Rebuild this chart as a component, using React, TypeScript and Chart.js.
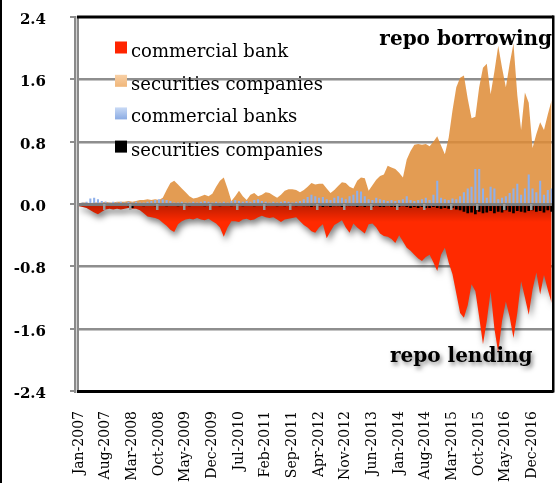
import { useEffect, useRef } from 'react';
import { Chart, registerables } from 'chart.js';

// ---------- data ----------
const MONTH_NAMES = ['Jan', 'Feb', 'Mar', 'Apr', 'May', 'Jun', 'Jul', 'Aug', 'Sep', 'Oct', 'Nov', 'Dec'];
const FIRST_YEAR = 2007;
const MONTH_COUNT = 125; // Jan-2007 .. May-2017
const CATEGORIES: string[] = Array.from(
  { length: MONTH_COUNT },
  (_, i) => `${MONTH_NAMES[i % 12]}-${FIRST_YEAR + Math.floor(i / 12)}`
);
const LABEL_STEP = 7;
const Y_TICKS = [-2.4, -1.6, -0.8, 0, 0.8, 1.6, 2.4];

const SERIES_NAMES = ['commercial bank', 'securities companies', 'commercial banks', 'securities companies'];
const NOTE_BORROWING = 'repo borrowing';
const NOTE_LENDING = 'repo lending';

// commercial bank repo lending (area, negative)
const BANK_LENDING = [
  -0.03, -0.04, -0.05, -0.08, -0.11, -0.13, -0.1, -0.07, -0.06, -0.07, -0.06, -0.07,
  -0.06, -0.05, -0.06, -0.06, -0.08, -0.12, -0.16, -0.17, -0.18, -0.2, -0.24, -0.28,
  -0.33, -0.36, -0.26, -0.22, -0.2, -0.19, -0.2, -0.18, -0.2, -0.21, -0.19, -0.22,
  -0.25, -0.3, -0.42, -0.3, -0.22, -0.22, -0.23, -0.2, -0.19, -0.21, -0.2, -0.17,
  -0.15, -0.17, -0.18, -0.17, -0.2, -0.23, -0.2, -0.19, -0.18, -0.17, -0.22, -0.27,
  -0.3, -0.35, -0.37, -0.3, -0.26, -0.44, -0.35, -0.27, -0.24, -0.21, -0.3, -0.37,
  -0.25, -0.3, -0.34, -0.38, -0.26, -0.25, -0.3, -0.38, -0.41, -0.42, -0.45, -0.5,
  -0.4, -0.48, -0.56, -0.6, -0.65, -0.7, -0.73, -0.68, -0.65, -0.75, -0.86, -0.65,
  -0.56, -0.75, -0.9, -1.15, -1.4, -1.46, -1.3, -1.03, -1.12, -1.45, -1.8, -1.5,
  -1.12, -1.6, -1.91, -1.5, -1.25, -1.45, -1.72, -1.4, -0.99, -1.2, -1.42, -1.1,
  -0.88, -1.16, -0.91, -1.1, -1.27,
];

// securities companies repo borrowing (area, positive)
const SEC_BORROWING = [
  0.01, 0.02, 0.02, 0.01, 0.02, 0.02, 0.02, 0.03, 0.02, 0.02, 0.03, 0.03,
  0.03, 0.04, 0.03, 0.04, 0.05, 0.05, 0.06, 0.05, 0.06, 0.05, 0.08, 0.18,
  0.27, 0.3, 0.25, 0.2, 0.15, 0.1, 0.07, 0.08, 0.1, 0.12, 0.1, 0.13,
  0.22, 0.3, 0.34, 0.2, 0.04, 0.1, 0.17, 0.1, 0.05, 0.12, 0.14, 0.1,
  0.12, 0.15, 0.14, 0.11, 0.08, 0.12, 0.17, 0.19, 0.19, 0.18, 0.15, 0.18,
  0.22, 0.27, 0.25, 0.26, 0.26, 0.2, 0.14, 0.18, 0.23, 0.28, 0.27, 0.22,
  0.2, 0.3, 0.34, 0.33, 0.17, 0.24, 0.31, 0.36, 0.38, 0.49, 0.47, 0.45,
  0.4, 0.34, 0.57, 0.68, 0.76, 0.77, 0.76, 0.77, 0.74, 0.8, 0.87, 0.75,
  0.64, 0.85, 1.2, 1.5, 1.62, 1.65, 1.35, 1.1, 1.12, 1.5, 1.75, 1.8,
  1.41, 1.7, 2.03, 1.75, 1.5, 1.8, 2.06, 1.4, 0.95, 1.43, 1.3, 0.72,
  0.9, 1.05, 0.95, 1.15, 1.33,
];

// commercial banks repo borrowing (bars, positive)
const BANK_BORROWING = [
  0.01, 0.02, 0.03, 0.07, 0.08, 0.06, 0.04, 0.03, 0.02, 0.03, 0.02, 0.03,
  0.02, 0.03, 0.02, 0.03, 0.02, 0.02, 0.03, 0.04, 0.05, 0.06, 0.06, 0.05,
  0.04, 0.02, 0.02, 0.03, 0.02, 0.02, 0.03, 0.02, 0.03, 0.04, 0.03, 0.02,
  0.03, 0.02, 0.03, 0.02, 0.04, 0.05, 0.04, 0.03, 0.04, 0.03, 0.05, 0.06,
  0.04, 0.03, 0.02, 0.03, 0.02, 0.03, 0.04, 0.03, 0.02, 0.03, 0.04, 0.06,
  0.09, 0.12, 0.1, 0.08, 0.09, 0.06, 0.05, 0.08, 0.1, 0.08, 0.06, 0.1,
  0.12, 0.17, 0.16, 0.1, 0.06, 0.05, 0.08, 0.06, 0.05, 0.04, 0.05, 0.04,
  0.05, 0.06, 0.1, 0.05, 0.04, 0.05, 0.06, 0.08, 0.05, 0.12, 0.3, 0.08,
  0.06, 0.05, 0.07, 0.06, 0.1, 0.15, 0.2, 0.22, 0.45, 0.45, 0.2, 0.08,
  0.22, 0.2, 0.06, 0.08, 0.1, 0.14, 0.2, 0.26, 0.12, 0.2, 0.38, 0.2,
  0.15, 0.3, 0.12, 0.18, 0.2,
];

// securities companies repo lending (bars, negative)
const SEC_LENDING = [
  -0.01, -0.01, -0.02, -0.01, -0.02, -0.01, -0.02, -0.02, -0.01, -0.02, -0.02, -0.01,
  -0.02, -0.03, -0.05, -0.02, -0.02, -0.03, -0.02, -0.02, -0.03, -0.02, -0.02, -0.03,
  -0.02, -0.02, -0.03, -0.02, -0.02, -0.03, -0.02, -0.02, -0.02, -0.03, -0.02, -0.02,
  -0.02, -0.03, -0.02, -0.02, -0.03, -0.02, -0.02, -0.03, -0.02, -0.02, -0.03, -0.02,
  -0.02, -0.03, -0.02, -0.02, -0.03, -0.02, -0.03, -0.02, -0.02, -0.03, -0.02, -0.03,
  -0.03, -0.04, -0.03, -0.03, -0.04, -0.03, -0.04, -0.03, -0.03, -0.04, -0.03, -0.03,
  -0.03, -0.04, -0.03, -0.04, -0.03, -0.04, -0.03, -0.04, -0.04, -0.03, -0.04, -0.04,
  -0.04, -0.03, -0.04, -0.05, -0.04, -0.05, -0.04, -0.05, -0.05, -0.04, -0.05, -0.06,
  -0.05, -0.06, -0.05, -0.07, -0.08, -0.1, -0.12, -0.11, -0.13, -0.1, -0.12, -0.11,
  -0.09, -0.12, -0.1, -0.11, -0.08, -0.1, -0.12, -0.09, -0.1, -0.11, -0.09, -0.08,
  -0.1, -0.09, -0.11, -0.08, -0.1,
];

// ---------- styles ----------
const RED = '#ff2a00';
const RED_DARK = '#b71c00';
const ORANGE = 'rgba(222,140,55,0.86)';
const BLUE = '#8fb0ea';
const BLACK = '#000000';
const GRID = '#8e8e8e';
const GRID_SOFT = '#c4c4c4';
const LEGEND_SWATCH = [
  ['#ff2400', '#ff2400'],
  ['#f8d0a6', '#f0b679'],
  ['#c9daf5', '#8aabe3'],
  ['#000000', '#000000'],
];
const SERIF = '"DejaVu Serif", serif';

const shadowPlugin = {
  id: 'areaShadow',
  beforeDatasetDraw(chart: any, args: any) {
    const ds: any = chart.data.datasets[args.index];
    if (ds.dropShadow) {
      const ctx = chart.ctx;
      ctx.save();
      ctx.shadowColor = 'rgba(0,0,0,0.5)';
      ctx.shadowBlur = 6;
      ctx.shadowOffsetX = 2;
      ctx.shadowOffsetY = 4;
    }
  },
  afterDatasetDraw(chart: any, args: any) {
    const ds: any = chart.data.datasets[args.index];
    if (ds.dropShadow) chart.ctx.restore();
  },
};

Chart.register(shadowPlugin);
Chart.register(...registerables);

const decorPlugin = {
  id: 'decor',
  afterDatasetsDraw(chart: any) {
    const { ctx, chartArea: a, scales } = chart;
    const x = scales.x;
    const y = scales.y;
    const left = Math.round(a.left);
    const right = Math.round(a.right);
    const y0 = Math.round(y.getPixelForValue(0));
    const half = (x.getPixelForValue(1) - x.getPixelForValue(0)) / 2;
    ctx.save();
    // horizontal grid lines, drawn behind the areas already painted
    ctx.globalCompositeOperation = 'destination-over';
    Y_TICKS.forEach((v) => {
      if (Math.abs(v) > 0.01 && Math.abs(v) < 2.3) {
        const py = Math.round(y.getPixelForValue(v));
        ctx.fillStyle = GRID_SOFT;
        ctx.fillRect(left, py + 1, right - left, 1);
        ctx.fillStyle = GRID;
        ctx.fillRect(left, py - 1, right - left, 2);
      }
    });
    ctx.globalCompositeOperation = 'source-over';
    // y tick marks
    ctx.fillStyle = GRID;
    Y_TICKS.forEach((v) => {
      const py = Math.round(y.getPixelForValue(v));
      ctx.fillRect(left - 7, py - 1, 7, 2);
    });
    // left axis (double grey line)
    ctx.fillStyle = '#8a8a8a';
    ctx.fillRect(left - 3, Math.round(a.top) - 1, 5, Math.round(a.bottom - a.top) + 3);
    ctx.fillStyle = '#d2d2d2';
    ctx.fillRect(left - 1, Math.round(a.top) - 1, 1, Math.round(a.bottom - a.top) + 3);
    // zero axis
    ctx.fillStyle = '#7c7c7c';
    ctx.fillRect(left + 2, y0 - 1, right - left - 2, 3);
    // tick marks every LABEL_STEP months
    ctx.fillStyle = '#9a9a9a';
    for (let i = LABEL_STEP; i < CATEGORIES.length; i += LABEL_STEP) {
      const p = Math.round(x.getPixelForValue(i) - half);
      ctx.fillRect(p - 1, y0, 2.5, 6);
    }
    // frame
    ctx.fillStyle = '#000';
    ctx.fillRect(a.left, a.top - 1.5, a.right - a.left, 3);
    ctx.fillRect(a.left, a.bottom - 1, a.right - a.left, 3);
    ctx.fillRect(a.right - 1.5, a.top - 1.5, 2.5, a.bottom - a.top + 3);
    ctx.restore();
  },
  afterDraw(chart: any) {
    const { ctx } = chart;
    ctx.save();
    // outer left edge
    ctx.fillStyle = '#000';
    ctx.fillRect(0, 0, 2, chart.height);
    // legend
    const rows = [47.5, 80.8, 113.4, 146.6];
    chart.data.datasets.forEach((ds: any, i: number) => {
      const cy = rows[i];
      const g = ctx.createLinearGradient(0, cy - 6, 0, cy + 6);
      g.addColorStop(0, LEGEND_SWATCH[i][0]);
      g.addColorStop(1, LEGEND_SWATCH[i][1]);
      ctx.fillStyle = g;
      ctx.fillRect(115, cy - 6, 12, 12);
      ctx.fillStyle = '#000';
      ctx.font = `18px ${SERIF}`;
      ctx.textAlign = 'left';
      ctx.textBaseline = 'alphabetic';
      ctx.fillText(ds.label, 131, cy + 9);
    });
    // notes
    ctx.font = `bold 20px ${SERIF}`;
    ctx.textAlign = 'right';
    ctx.fillStyle = '#000';
    ctx.fillText(NOTE_BORROWING, 552, 45);
    ctx.textAlign = 'left';
    ctx.shadowColor = 'rgba(0,0,0,0.45)';
    ctx.shadowBlur = 4;
    ctx.shadowOffsetX = 2;
    ctx.shadowOffsetY = 3;
    ctx.fillText(NOTE_LENDING, 390, 362);
    ctx.restore();
  },
};

const redFill = (c: any) => {
  const chart = c.chart;
  if (!chart.chartArea) return RED;
  const y0 = chart.scales.y.getPixelForValue(0);
  const g = chart.ctx.createLinearGradient(0, y0, 0, y0 + 18);
  g.addColorStop(0, RED_DARK);
  g.addColorStop(1, RED);
  return g;
};

export default function App() {
  const ref = useRef<HTMLCanvasElement | null>(null);
  useEffect(() => {
    if (!ref.current) return;
    const context = ref.current.getContext('2d', { willReadFrequently: true });
    if (!context) return;
    const chart = new Chart(context, {
      type: 'bar',
      data: {
        labels: CATEGORIES,
        datasets: [
          {
            type: 'line',
            label: SERIES_NAMES[0],
            data: BANK_LENDING,
            backgroundColor: redFill,
            borderWidth: 0,
            pointRadius: 0,
            fill: 'origin',
            tension: 0,
            order: 2,
            dropShadow: true,
          } as any,
          {
            type: 'line',
            label: SERIES_NAMES[1],
            data: SEC_BORROWING,
            backgroundColor: ORANGE,
            borderWidth: 0,
            pointRadius: 0,
            fill: 'origin',
            tension: 0,
            order: 3,
          } as any,
          {
            type: 'bar',
            label: SERIES_NAMES[2],
            data: BANK_BORROWING,
            backgroundColor: BLUE,
            grouped: false,
            barPercentage: 0.55,
            categoryPercentage: 1,
            order: 0,
          } as any,
          {
            type: 'bar',
            label: SERIES_NAMES[3],
            data: SEC_LENDING,
            backgroundColor: BLACK,
            grouped: false,
            barPercentage: 0.7,
            categoryPercentage: 1,
            order: 1,
          } as any,
        ],
      },
      options: {
        responsive: false,
        devicePixelRatio: 1,
        animation: false,
        events: [],
        layout: { padding: { top: 17, right: 1.5, left: 0, bottom: 0 } },
        plugins: {
          legend: { display: false },
          tooltip: { enabled: false },
        },
        scales: {
          x: {
            type: 'category',
            offset: true,
            grid: { display: false },
            border: { display: false },
            ticks: {
              autoSkip: false,
              maxRotation: 90,
              minRotation: 90,
              padding: 12,
              color: '#000',
              font: { family: SERIF, size: 14 },
              callback: (_v: any, index: number) => (index % LABEL_STEP === 0 ? CATEGORIES[index] : ''),
            },
            afterFit: (s: any) => {
              s.height = 92;
              s.paddingLeft = 0;
              s.paddingRight = 0;
            },
          },
          y: {
            min: -2.4,
            max: 2.4,
            afterBuildTicks: (s: any) => {
              s.ticks = Y_TICKS.map((v) => ({ value: v }));
            },
            afterFit: (s: any) => {
              s.width = 77;
              s.paddingTop = 0;
              s.paddingBottom = 0;
            },
            grid: { display: false },
            border: { display: false },
            ticks: {
              padding: 23,
              labelOffset: 3,
              color: '#000',
              font: { family: SERIF, size: 15, weight: 'bold' },
              callback: (v: any) => Number(v).toFixed(1),
            },
          },
        },
      } as any,
      plugins: [decorPlugin],
    });
    return () => chart.destroy();
  }, []);
  return (
    <div style={{ position: 'fixed', left: 0, top: 0, width: 555, height: 483, background: '#fff' }}>
      <canvas ref={ref} width={555} height={483} />
    </div>
  );
}
